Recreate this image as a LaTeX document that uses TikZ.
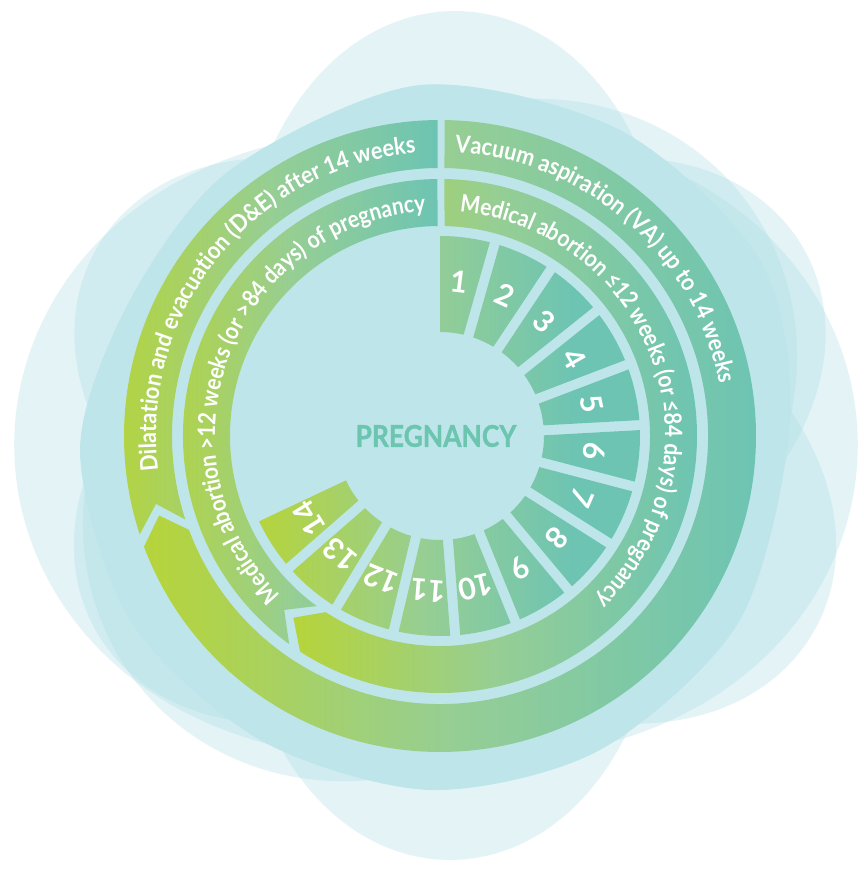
\documentclass[tikz,border=0pt]{standalone}
\usepackage{fontspec}
\setmainfont{Lato}
\newfontfamily\headfont[FakeBold=1.2]{Lato}

\definecolor{ringlime}{HTML}{B6D43A}
\definecolor{ringmid}{HTML}{96CE94}
\definecolor{ringteal}{HTML}{6DC4B3}
\definecolor{disc}{HTML}{BEE6EA}
\definecolor{haze}{HTML}{A6DCE3}
\definecolor{titlecol}{HTML}{6CC5AF}

\pgfdeclarehorizontalshading{ringgrad}{100bp}{color(0bp)=(ringlime); color(25bp)=(ringlime);
  color(50bp)=(ringmid); color(75bp)=(ringteal); color(100bp)=(ringteal)}
\pgfdeclarehorizontalshading{weekgrad}{100bp}{color(0bp)=(ringlime); color(25bp)=(ringlime);
  color(47bp)=(ringmid); color(66bp)=(ringteal); color(100bp)=(ringteal)}

\newcommand\bandfont{\bfseries\fontsize{24}{28}\selectfont}
\newcommand\numfont{\bfseries\fontsize{30}{34}\selectfont}

\tikzset{
  blob/.style={fill=haze, fill opacity=0.3},
  mainblob/.style={fill=disc},
  band/.style={shading=ringgrad, draw=none},
  weekband/.style={shading=weekgrad, draw=none},
  bandchar/.style={text=white, font=\bandfont, inner sep=0pt, anchor=base},
  weeknum/.style={text=white, font=\numfont, inner sep=0pt},
  heading/.style={text=titlecol, font=\headfont\bfseries\fontsize{30}{34}\selectfont, inner sep=0pt},
}

% Curved label: sets a comma separated list of words clockwise along a circle
% #1 baseline radius, #2 start angle, #3 horizontal squeeze of the letters, #4 words
\makeatletter
\newdimen\arcw
\newdimen\arcangle
\newdimen\arcstep
\newcounter{arcglyph}
\newcommand\arcmeasure[1]{%
  \setbox0=\hbox{\let\selectfont\pgfutil@selectfont\bandfont#1}%
  \global\arcw=\wd0 }
\newcommand\arcloop[1]{%
  \@tfor\arcch:=#1\do{%
    \arcmeasure{\arcch}%
    \pgfmathsetlength\arcstep{\arcsq*\arcw/\arcrad*57.29578}%
    \pgfmathsetmacro\arcmid{\arcangle-0.5*\arcstep}%
    \stepcounter{arcglyph}%
    \node[bandchar, rotate=\arcmid-90, xscale=\arcsq] (g\arabic{arcglyph}) at (\arcmid:\arcrad) {\arcch};
    \global\advance\arcangle by -\arcstep
  }}
\newcommand\arctext[4]{%
  \gdef\arcrad{#1}\global\arcangle=#2pt \gdef\arcsq{#3}%
  \arcmeasure{\ }\xdef\arcspace{\the\arcw}%
  \@for\arcword:=#4\do{%
    \expandafter\arcloop\expandafter{\arcword}%
    \pgfmathsetlength\arcstep{\arcsq*\arcspace/\arcrad*57.29578}%
    \global\advance\arcangle by -\arcstep
  }}
\makeatother

\begin{document}
\begin{tikzpicture}[x=1pt,y=1pt]
\useasboundingbox (-440,-436) rectangle (423,436);
\fill[white] (-440,-436) rectangle (423,436);

% translucent background haze, written in page coordinates (y downwards)
\begin{scope}[cm={1,0,0,-1,(-440,436)}]
  % three-lobed: top, lower right, lower left
  \fill[blob] plot[domain=0:356, samples=90, smooth cycle, variable=\t]
    ({455+345*(1+0.2*cos(3*(\t+90)))*cos(\t)}, {425+345*(1+0.2*cos(3*(\t+90)))*sin(\t)});
  % three-lobed: bottom, upper left, upper right
  \fill[blob] plot[domain=0:356, samples=90, smooth cycle, variable=\t]
    ({450+340*(1+0.2*cos(3*(\t-90)))*cos(\t)}, {452+340*(1+0.2*cos(3*(\t-90)))*sin(\t)});
  % two-lobed: left and right
  \fill[blob] plot[domain=0:356, samples=90, smooth cycle, variable=\t]
    ({436+370*(1+0.14*cos(2*\t))*cos(\t)}, {445+370*(1+0.14*cos(2*\t))*sin(\t)});
  % two-lobed: upper right and lower left
  \fill[blob] plot[domain=0:356, samples=90, smooth cycle, variable=\t]
    ({440+335*(1+0.16*cos(2*(\t+40)))*cos(\t)}, {440+335*(1+0.16*cos(2*(\t+40)))*sin(\t)});
  % the calm field behind the rings
  \fill[mainblob] plot[smooth cycle] coordinates {(80,450) (130,300) (230,170) (420,85) (620,130) (760,260) (790,420) (740,620) (600,750) (430,790) (260,740) (130,620)};
\end{scope}

% outer ring: vacuum aspiration, then D&E
\shade[band] (89.18:316) arc[start angle=89.18, end angle=-159.5, radius=316]
  -- (-164.2:292) -- (-159.5:268) arc[start angle=-159.5, end angle=89.04, radius=268] -- cycle;
\shade[band] (198.15:316) arc[start angle=198.15, end angle=90.45, radius=316]
  -- (90.53:268) arc[start angle=90.53, end angle=198.15, radius=268] -- (193.45:292) -- cycle;

% inner ring: medical abortion up to 12 weeks, then beyond 12 weeks
\shade[band] (89.0:257) arc[start angle=89.0, end angle=-123, radius=257]
  -- (-128.9:233.5) -- (-123:210) arc[start angle=-123, end angle=88.77, radius=210] -- cycle;
\shade[band] (234.06:257) arc[start angle=234.06, end angle=90.56, radius=257]
  -- (90.68:210) arc[start angle=90.68, end angle=234.06, radius=210] -- (228.16:233.5) -- cycle;

% week segments, all sharing one left-to-right gradient
\foreach \k in {1,...,14}{
  \pgfmathsetmacro{\base}{91.875-(\k-1)*17.75}
  \pgfmathsetmacro{\sego}{\base-asin(5/200)}
  \pgfmathsetmacro{\segi}{\base-asin(5/104)}
  \pgfmathsetmacro{\endo}{\base-17.75+asin(5/200)}
  \pgfmathsetmacro{\endi}{\base-17.75+asin(5/104)}
  \ifnum\k=1 \def\sego{90}\def\segi{90}\fi
  \ifnum\k=14 \def\endo{-154.75}\def\endi{-154.75}\fi
  \begin{scope}
    \clip (\sego:200) arc[start angle=\sego, end angle=\endo, radius=200]
      -- (\endi:104) arc[start angle=\endi, end angle=\segi, radius=104] -- cycle;
    \shade[weekband] (-185,-205) rectangle (205,205);
  \end{scope}
}

% band labels
\arctext{284}{87}{0.9}{Vacuum,aspiration,(VA),up,to,14,weeks}
\arctext{225}{85}{0.87}{Medical,abortion,≤12,weeks,(or,≤84,days),of,pregnancy}
\arctext{284}{187}{0.9}{Dilatation,and,evacuation,(D\&E),after,14,weeks}
\arctext{225}{225}{0.87}{Medical,abortion,>12,weeks,(or,>84,days),of,pregnancy}

% week numbers
\foreach \k in {1,...,14}{
  \pgfmathsetmacro{\ang}{83-(\k-1)*17.75}
  \node[weeknum, rotate=\ang-90] (w\k) at (\ang:155) {\k};
}

\node[heading, xscale=0.88] (preg) at (-4,0) {PREGNANCY};
\end{tikzpicture}
\end{document}
